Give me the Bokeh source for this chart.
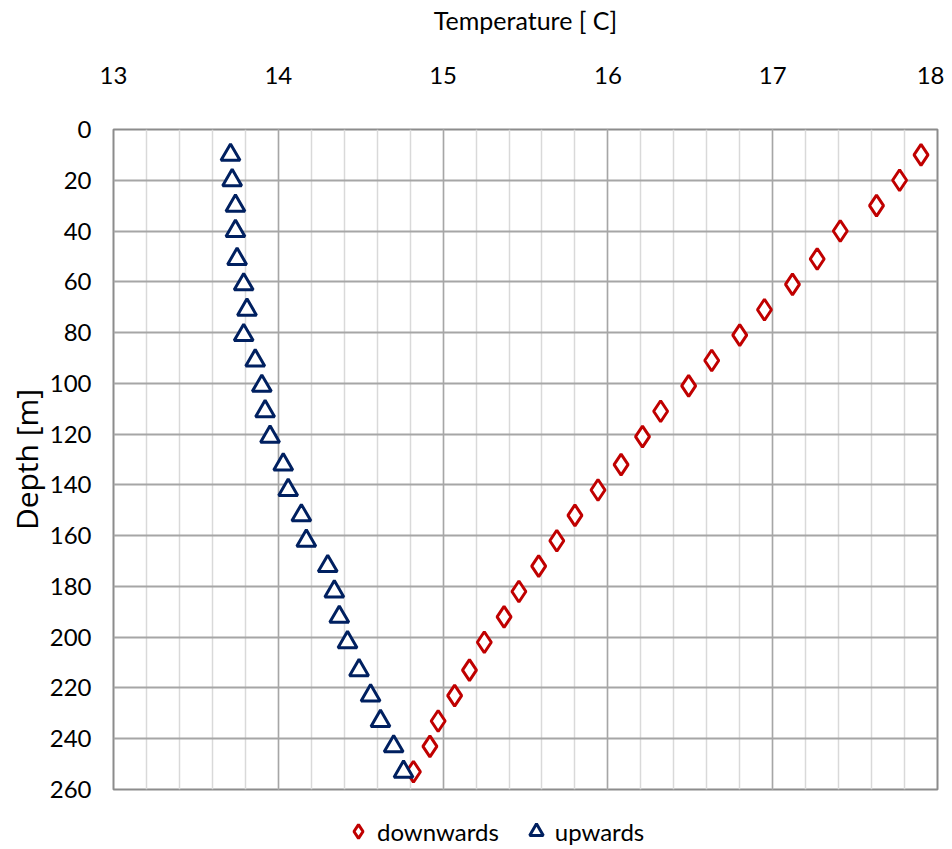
from bokeh.plotting import figure
from bokeh.layouts import column
from bokeh.models import Range1d, SingleIntervalTicker, Legend, LegendItem
from bokeh.embed import file_html
from bokeh.resources import INLINE

# ---- data ----
depth = [10, 20, 30, 40, 51, 61, 71, 81, 91, 101, 111, 121, 132, 142, 152, 162,
         172, 182, 192, 202, 213, 223, 233, 243, 253]
temp_down = [17.90, 17.77, 17.63, 17.41, 17.27, 17.12, 16.95, 16.80, 16.63, 16.49,
             16.32, 16.21, 16.08, 15.94, 15.80, 15.69, 15.58, 15.46, 15.37, 15.25,
             15.16, 15.07, 14.97, 14.92, 14.82]
temp_up = [13.71, 13.72, 13.74, 13.74, 13.75, 13.79, 13.81, 13.79, 13.86, 13.90,
           13.92, 13.95, 14.03, 14.06, 14.14, 14.17, 14.30, 14.34, 14.37, 14.42,
           14.49, 14.56, 14.62, 14.70, 14.76]
series_names = ["downwards", "upwards"]
x_title = "Temperature [ C]"
y_title = "Depth [m]"

FONT = "Lato"
DOWN_STYLE = dict(marker="diamond", size=21, fill_color="white", line_color="#c00000", line_width=3)
UP_STYLE = dict(marker="triangle", size=19, fill_color="white", line_color="#002060", line_width=3)

p = figure(width=944, height=808, output_backend="svg", toolbar_location=None,
           x_range=Range1d(13, 18), y_range=Range1d(260, 0),
           x_axis_location="above",
           min_border_left=113, min_border_top=129, min_border_right=7, min_border_bottom=19)

p.outline_line_color = "#8c8c8c"
p.outline_line_width = 2

# axes
xa = p.xaxis[0]
xa.ticker = SingleIntervalTicker(interval=1, num_minor_ticks=5)
xa.axis_label = x_title
xa.axis_label_text_font = FONT
xa.axis_label_text_font_size = "25px"
xa.axis_label_text_font_style = "normal"
xa.axis_label_text_color = "#000000"
xa.axis_label_standoff = 29
xa.major_label_text_font = FONT
xa.major_label_text_font_size = "24px"
xa.major_label_text_color = "#000000"
xa.major_label_standoff = 40
xa.axis_line_color = None
xa.major_tick_line_color = None
xa.minor_tick_line_color = None

ya = p.yaxis[0]
ya.ticker = SingleIntervalTicker(interval=20, num_minor_ticks=0)
ya.axis_label = y_title
ya.axis_label_text_font = "Open Sans"
ya.axis_label_text_font_size = "30px"
ya.axis_label_text_font_style = "normal"
ya.axis_label_text_color = "#000000"
ya.axis_label_standoff = 0
ya.major_label_text_font = FONT
ya.major_label_text_font_size = "24px"
ya.major_label_text_color = "#000000"
ya.major_label_standoff = 16
ya.axis_line_color = None
ya.major_tick_line_color = None
ya.minor_tick_line_color = None

# grids
p.xgrid.grid_line_color = "#a6a6a6"
p.xgrid.grid_line_width = 1.5
p.xgrid.minor_grid_line_color = "#d9d9d9"
p.xgrid.minor_grid_line_width = 1.5
p.ygrid.grid_line_color = "#a6a6a6"
p.ygrid.grid_line_width = 2

p.scatter(temp_down, depth, **DOWN_STYLE)
p.scatter(temp_up, depth, **UP_STYLE)

# legend strip below the chart (its own small figure, data lies outside its ranges)
lg = figure(width=944, height=41, output_backend="svg", toolbar_location=None,
            x_range=Range1d(0, 1), y_range=Range1d(0, 1),
            x_axis_type=None, y_axis_type=None,
            min_border_left=0, min_border_right=0, min_border_top=0, min_border_bottom=0)
lg.outline_line_color = None
lg.xgrid.visible = False
lg.ygrid.visible = False
l_down = lg.scatter(temp_down, depth, **DOWN_STYLE)
l_up = lg.scatter(temp_up, depth, **UP_STYLE)

legend = Legend(items=[LegendItem(label=series_names[0], renderers=[l_down]),
                       LegendItem(label=series_names[1], renderers=[l_up])],
                orientation="horizontal", location=(228, 0),
                label_text_font=FONT, label_text_font_size="24px",
                label_text_color="#000000",
                glyph_width=34, glyph_height=36, spacing=20, label_standoff=2,
                border_line_color=None, background_fill_alpha=0, padding=0, margin=0)
lg.add_layout(legend, "center")

layout = column(p, lg, spacing=0)
open("out.html", "w").write(file_html(layout, INLINE))
